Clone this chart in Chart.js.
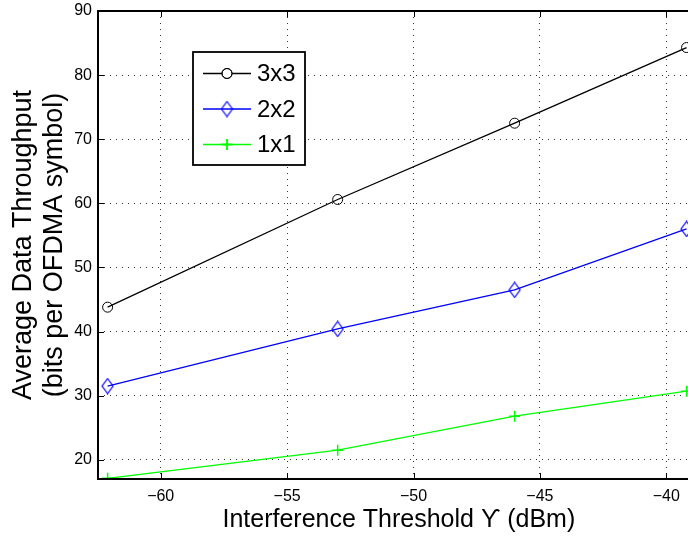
<!DOCTYPE html>
<html>
<head>
<meta charset="utf-8">
<script src="https://cdn.jsdelivr.net/npm/chart.js@4.4.1/dist/chart.umd.min.js"></script>
<style>
html, body { margin: 0; padding: 0; overflow: hidden; background: #fff; }
</style>
</head>
<body>
<!-- wider than the window: the right edge of the axes box is cut off, as in the original -->
<canvas id="throughput" width="707" height="538"></canvas>
<script>
var thresholds = [-62.1, -53, -46, -39.2];
var mimo3x3 = [43.8, 60.6, 72.5, 84.3];
var mimo2x2 = [31.5, 40.4, 46.5, 56.0];
var siso1x1 = [17.1, 21.5, 26.8, 30.7];
var seriesNames = ['3x3', '2x2', '1x1'];
var xTicks = [-60, -55, -50, -45, -40];
var yTicks = [20, 30, 40, 50, 60, 70, 80, 90];

var FONT = "'Liberation Sans', Arial, Helvetica, sans-serif";

// open diamond marker (taller than wide, like matlab's 'd')
function diamond(color) {
    var c = document.createElement('canvas');
    c.width = 13;
    c.height = 17;
    var g = c.getContext('2d');
    g.strokeStyle = color;
    g.lineWidth = 1.2;
    g.beginPath();
    g.moveTo(6.5, 1);
    g.lineTo(12, 8.5);
    g.lineTo(6.5, 16);
    g.lineTo(1, 8.5);
    g.closePath();
    g.stroke();
    return c;
}

function pts(ys) {
    return ys.map(function (y, i) { return { x: thresholds[i], y: y }; });
}

var datasets = [{
    label: seriesNames[0],
    data: pts(mimo3x3),
    borderColor: '#000000',
    pointStyle: 'circle',
    pointRadius: 5,
    pointBorderWidth: 1
}, {
    label: seriesNames[1],
    data: pts(mimo2x2),
    borderColor: '#0000ff',
    pointStyle: diamond('#0000ff'),
    pointRadius: 6
}, {
    label: seriesNames[2],
    data: pts(siso1x1),
    borderColor: '#00ff00',
    pointStyle: 'cross',
    pointRadius: 5.5,
    pointBorderWidth: 1.5
}];
datasets.forEach(function (d) {
    d.borderWidth = 1.3;
    d.tension = 0;
    d.fill = false;
    d.backgroundColor = 'rgba(0,0,0,0)';
    d.pointBorderColor = d.borderColor;
    d.pointBackgroundColor = 'rgba(0,0,0,0)';
});

// axes box, inward tick marks and the boxed legend
var framePlugin = {
    id: 'frame',
    afterDraw: function (chart) {
        var ctx = chart.ctx;
        var a = chart.chartArea;
        var xs = chart.scales.x, ys = chart.scales.y;
        ctx.save();
        ctx.strokeStyle = '#000';
        ctx.lineWidth = 1;
        ctx.beginPath();
        xs.ticks.forEach(function (t) {
            var px = Math.round(xs.getPixelForValue(t.value)) + 0.5;
            ctx.moveTo(px, a.bottom); ctx.lineTo(px, a.bottom - 6);
            ctx.moveTo(px, a.top); ctx.lineTo(px, a.top + 6);
        });
        ys.ticks.forEach(function (t) {
            var py = Math.round(ys.getPixelForValue(t.value)) + 0.5;
            ctx.moveTo(a.left, py); ctx.lineTo(a.left + 6, py);
            ctx.moveTo(a.right, py); ctx.lineTo(a.right - 6, py);
        });
        ctx.stroke();
        ctx.lineWidth = 2;
        ctx.strokeRect(a.left, a.top, a.right - a.left, a.bottom - a.top);

        // legend
        var lx = 193, ly = 52, lw = 112, lh = 113;
        ctx.fillStyle = '#fff';
        ctx.fillRect(lx, ly, lw, lh);
        ctx.lineWidth = 1.8;
        ctx.strokeStyle = '#000';
        ctx.strokeRect(lx, ly, lw, lh);
        ctx.font = '24px ' + FONT;
        ctx.textBaseline = 'middle';
        ctx.textAlign = 'left';
        chart.data.datasets.forEach(function (d, i) {
            var ry = 73.5 + i * 35.5;
            ctx.strokeStyle = d.borderColor;
            ctx.lineWidth = d.borderWidth;
            ctx.beginPath();
            ctx.moveTo(203, ry); ctx.lineTo(251, ry);
            ctx.stroke();
            var cx = 227;
            if (d.pointStyle instanceof HTMLCanvasElement) {
                ctx.drawImage(d.pointStyle, cx - d.pointStyle.width / 2, ry - d.pointStyle.height / 2);
            } else {
                ctx.lineWidth = d.pointBorderWidth;
                Chart.helpers.drawPoint(ctx, {
                    pointStyle: d.pointStyle,
                    radius: d.pointRadius,
                    borderWidth: d.pointBorderWidth,
                    rotation: 0
                }, cx, ry);
                ctx.stroke();
            }
            ctx.fillStyle = '#000';
            ctx.fillText(d.label, 257, ry + 1);
        });
        ctx.restore();
    }
};

new Chart(document.getElementById('throughput'), {
    type: 'line',
    data: { datasets: datasets },
    plugins: [framePlugin],
    options: {
        responsive: false,
        animation: false,
        layout: { padding: { top: 11, left: 0, right: 0, bottom: 0 } },
        plugins: { legend: { display: false }, tooltip: { enabled: false } },
        scales: {
            x: {
                type: 'linear',
                min: -62.48,
                max: -38.68,
                afterBuildTicks: function (s) {
                    s.ticks = xTicks.map(function (v) { return { value: v }; });
                },
                afterFit: function (s) {
                    s.height = 59;
                    s.paddingLeft = 0;
                    s.paddingRight = 0;
                },
                grid: { color: '#333', lineWidth: 1, drawTicks: false },
                border: { display: false, dash: [1, 5] },
                ticks: {
                    padding: 8,
                    color: '#000',
                    maxRotation: 0,
                    font: { family: FONT, size: 16 },
                    callback: function (v) { return String(v).replace('-', '\u2212'); }
                },
                title: {
                    display: true,
                    text: 'Interference Threshold \u03d2 (dBm)',
                    color: '#000',
                    font: { family: FONT, size: 25, lineHeight: 1.2 },
                    padding: { top: 0, bottom: 2.4 }
                }
            },
            y: {
                type: 'linear',
                min: 17,
                max: 90,
                afterBuildTicks: function (s) {
                    s.ticks = yTicks.map(function (v) { return { value: v }; });
                },
                afterFit: function (s) {
                    s.width = 98;
                    s.paddingTop = 0;
                    s.paddingBottom = 0;
                },
                grid: { color: '#333', lineWidth: 1, drawTicks: false },
                border: { display: false, dash: [1, 5] },
                ticks: {
                    padding: 6,
                    color: '#000',
                    font: { family: FONT, size: 16 }
                },
                title: {
                    display: true,
                    text: ['Average Data Throughput', '(bits per OFDMA symbol)'],
                    color: '#000',
                    font: { family: FONT, size: 27, lineHeight: 30.5 / 27 },
                    padding: { top: 8.3, bottom: 0 }
                }
            }
        }
    }
});
</script>
</body>
</html>
